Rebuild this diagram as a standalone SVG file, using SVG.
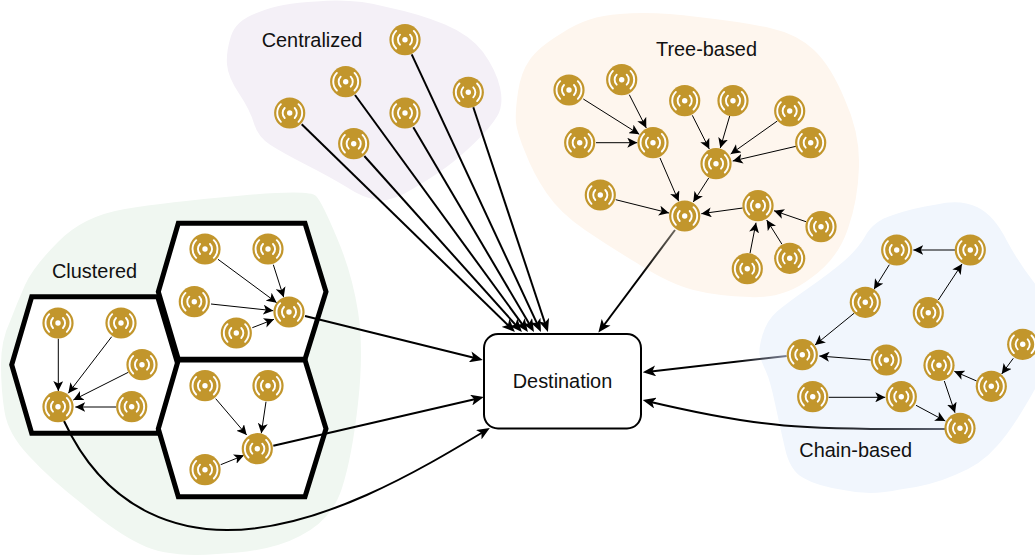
<svg xmlns="http://www.w3.org/2000/svg" xmlns:xlink="http://www.w3.org/1999/xlink" width="1035" height="559" viewBox="0 0 1035 559">
<style>
.lbl{font-family:"Liberation Sans",Arial,sans-serif;font-size:19.9px;fill:#111}
.hex{fill:#fff;stroke:#000;stroke-width:5;stroke-linejoin:miter}
.thin{fill:none;stroke:#000;stroke-width:1;marker-end:url(#a1)}
.thick{fill:none;stroke:#000;stroke-width:2;marker-end:url(#a2)}
.arc{fill:none;stroke:#fff;stroke-width:1.900;stroke-linecap:round}
</style>
<defs>
<marker id="a1" markerUnits="userSpaceOnUse" markerWidth="10" markerHeight="10" viewBox="0 0 10 10" refX="10" refY="5" orient="auto" preserveAspectRatio="none"><path d="M0 0L10 5L0 10L2.5 5Z" fill="#000"/></marker>
<marker id="a2" markerUnits="userSpaceOnUse" markerWidth="13" markerHeight="11" viewBox="0 0 10 10" refX="7" refY="5" orient="auto" preserveAspectRatio="none"><path d="M0 0L10 5L0 10L2.5 5Z" fill="#000"/></marker>
<linearGradient id="gt" gradientUnits="userSpaceOnUse" x1="675" y1="230" x2="640" y2="277"><stop offset="0" stop-color="#6a655c"/><stop offset="1" stop-color="#000"/></linearGradient>
<linearGradient id="gc1" gradientUnits="userSpaceOnUse" x1="787" y1="356" x2="735" y2="362"><stop offset="0" stop-color="#7c8296"/><stop offset="1" stop-color="#000"/></linearGradient>
<linearGradient id="gc2" gradientUnits="userSpaceOnUse" x1="945" y1="429" x2="780" y2="424"><stop offset="0" stop-color="#5c6270"/><stop offset="1" stop-color="#000"/></linearGradient>
<g id="icon">
<circle r="15.6" fill="#C2962C"/>
<circle r="2.7" fill="#fff"/>
<path class="arc" d="M-5 -5A7.100 7.100 0 0 0 -5 5M5 -5A7.100 7.100 0 0 1 5 5M-8.800 -8.800A12.400 12.400 0 0 0 -8.800 8.800M8.800 -8.800A12.400 12.400 0 0 1 8.800 8.800"/>
</g>
</defs>

<g id="regions">
<path id="region-centralized" fill="#F4F0F7" d="M231 36Q236 20 258 12.500Q280 3 316.500 1.500Q353 -2 386.500 7Q420 14 445 24.500Q470 35 483 52Q496 70 500 87.500Q504 105 497 116.500Q490 128 475 142.500Q460 157 446.500 167Q433 177 412.500 189Q392 202 377.500 200Q363 198 346.500 187Q330 177 306.500 165Q283 153 270.500 145Q258 137 254 123.500Q250 110 239 93.500Q228 77 227 64.500Q226 52 231 36Z"/>
<path id="region-tree" fill="#FEF6EE" d="M518 92Q521 72 529 61Q537 48 562 33Q587 16 620 14Q653 11 698 17Q743 22 770 28Q797 34 814 50Q831 66 845 100Q860 133 859 166.500Q858 200 848 228.500Q838 259 811 278Q784 299 750 297Q717 296 693.500 290Q670 284 640 265Q610 247 585 230Q560 213 546.500 193Q533 173 525.500 153Q517 133 516 122.500Q515 112 518 92Z"/>
<path id="region-chain" fill="#F1F6FD" d="M762.500 335Q767 320 777 311.500Q787 303 808.500 288Q830 273 843.500 261.500Q857 250 865 236.500Q873 221 893 215Q913 208 936.500 204.500Q960 199 977 207Q994 215 1007 241Q1021 267 1040 290L1040 380Q1014 428 997 446Q981 465 955 475Q930 486 900 489.500Q870 496 843.500 490Q817 486 803.500 478Q790 471 785 448.500Q780 427 775 403.500Q770 380 766 371.500Q762 363 760 356.500Q758 350 762.500 335Z"/>
<path id="region-clustered" fill="#F0F7F1" d="M10 321.500Q17 303 25 285Q33 267 58 242Q83 216 125 209Q167 202 237 196Q310 189 316 196Q322 202 337 238Q352 273 358 311.500Q364 350 358 403.500Q352 457 342 488Q332 520 300 536Q270 552 217 554Q167 558 140 544Q115 532 83.500 505Q50 479 29 456Q8 434 4.500 411.500Q1 390 1 365Q1 340 10 321.500Z"/>
</g>

<g id="clusters">
<polygon id="hex-left" class="hex" points="31.700,296.700 157.700,296.700 178,364.700 157.700,433.300 31.700,433.300 11.700,364.700"/>
<polygon id="hex-top" class="hex" points="178.300,223.300 305,223.300 326,291.700 305,359.300 178.300,359.300 158.300,291.700"/>
<polygon id="hex-bottom" class="hex" points="178.300,360 305,360 326,428.700 305,496.700 178.300,496.700 158.300,428.700"/>
</g>

<g id="destination">
<rect x="484" y="334" width="157" height="94.500" rx="14" ry="14" fill="#fff" stroke="#000" stroke-width="2"/>
<text class="lbl" x="562.500" y="388" text-anchor="middle">Destination</text>
</g>

<g id="connectors">
<path class="thin" d="M58.300 338.700L58.300 391"/>
<path class="thin" d="M111.700 336.700L68.300 393.300"/>
<path class="thin" d="M128.300 372.300L73.300 400"/>
<path class="thin" d="M116 407L75.300 407"/>
<path class="thin" d="M218 259.300L276.700 302.700"/>
<path class="thin" d="M273.300 264.700L283.700 297.300"/>
<path class="thin" d="M211 304L273.300 310.700"/>
<path class="thin" d="M252.300 327.700L274 319.300"/>
<path class="thin" d="M215.700 398.700L246.700 435"/>
<path class="thin" d="M266 401.700L261.300 433.300"/>
<path class="thin" d="M220.700 464.700L244 455.300"/>
<path class="thin" d="M583.300 99L639.300 134.300"/>
<path class="thin" d="M629.300 94.700L646.300 128"/>
<path class="thin" d="M596 142.700L637.300 142.700"/>
<path class="thin" d="M660 158L678.700 201.300"/>
<path class="thin" d="M692.300 115.300L709.300 149"/>
<path class="thin" d="M729.700 116L720.300 148"/>
<path class="thin" d="M777.300 121L730.700 154"/>
<path class="thin" d="M796 146.300L732.700 161"/>
<path class="thin" d="M708.700 178L693.300 202"/>
<path class="thin" d="M615.700 199.700L669 213"/>
<path class="thin" d="M742.700 208L701.300 213.700"/>
<path class="thin" d="M806 221.700L774 210.700"/>
<path class="thin" d="M782 244.300L766.700 220"/>
<path class="thin" d="M750 253.300L756 222.700"/>
<path class="thin" d="M955 250L913.300 250"/>
<path class="thin" d="M889.300 264.700L874 289.300"/>
<path class="thin" d="M938.300 300L962 264"/>
<path class="thin" d="M854 313.300L815 345"/>
<path class="thin" d="M870.700 360L819.300 356"/>
<path class="thin" d="M1013.300 358.300L1001.700 374"/>
<path class="thin" d="M976.700 381L954.300 371.300"/>
<path class="thin" d="M944.300 381L955 412.700"/>
<path class="thin" d="M828.700 397.300L885.300 397.300"/>
<path class="thin" d="M916 405.300L945.300 421"/>

<path class="thick" d="M301.700 124.300L512.100 329.200"/>
<path class="thick" d="M364.300 156L519.300 329"/>
<path class="thick" d="M355 95L525.600 328.800"/>
<path class="thick" d="M413.300 127.300L532 328.600"/>
<path class="thick" d="M411.700 54.300L539.300 328.400"/>
<path class="thick" d="M473.300 107.300L546.700 328.200"/>
<path class="thick" d="M305 316L479 359"/>
<path class="thick" d="M273.300 445.700L480 398"/>
<path class="thick" d="M64 421C110 520 190 530 227 530C320 530 420 470 486.500 430"/>
<path class="thick" style="stroke:url(#gt)" d="M675 230L600.700 329.500"/>
<path class="thick" style="stroke:url(#gc1)" d="M786.700 356L646.600 371.900"/>
<path class="thick" style="stroke:url(#gc2)" d="M945 429C800 430 760 428 646.500 401"/>
</g>

<g id="node-c1"><use href="#icon" x="58" y="323"/></g>
<g id="node-c2"><use href="#icon" x="121" y="323"/></g>
<g id="node-c3"><use href="#icon" x="142" y="364.700"/></g>
<g id="node-c4"><use href="#icon" x="131.700" y="406.700"/></g>
<g id="node-c5"><use href="#icon" x="58" y="406.700"/></g>
<g id="node-c6"><use href="#icon" x="205" y="249"/></g>
<g id="node-c7"><use href="#icon" x="268" y="249"/></g>
<g id="node-c8"><use href="#icon" x="194.300" y="301.700"/></g>
<g id="node-c9"><use href="#icon" x="236.300" y="333"/></g>
<g id="node-c10"><use href="#icon" x="289" y="312"/></g>
<g id="node-c11"><use href="#icon" x="205" y="385.700"/></g>
<g id="node-c12"><use href="#icon" x="268" y="385.700"/></g>
<g id="node-c13"><use href="#icon" x="205" y="469.700"/></g>
<g id="node-c14"><use href="#icon" x="257.300" y="448.700"/></g>

<g id="node-n1"><use href="#icon" x="405" y="39.700"/></g>
<g id="node-n2"><use href="#icon" x="468.300" y="92.300"/></g>
<g id="node-n3"><use href="#icon" x="345.700" y="81.700"/></g>
<g id="node-n4"><use href="#icon" x="405" y="113"/></g>
<g id="node-n5"><use href="#icon" x="289.700" y="113"/></g>
<g id="node-n6"><use href="#icon" x="353.700" y="143.700"/></g>

<g id="node-t1"><use href="#icon" x="569" y="90"/></g>
<g id="node-t2"><use href="#icon" x="621.700" y="79.700"/></g>
<g id="node-t3"><use href="#icon" x="684.700" y="100.700"/></g>
<g id="node-t4"><use href="#icon" x="733" y="100.700"/></g>
<g id="node-t5"><use href="#icon" x="789.700" y="111"/></g>
<g id="node-t6"><use href="#icon" x="810.700" y="142.700"/></g>
<g id="node-t7"><use href="#icon" x="579.700" y="142.700"/></g>
<g id="node-t8"><use href="#icon" x="653" y="142.700"/></g>
<g id="node-t9"><use href="#icon" x="716" y="163.700"/></g>
<g id="node-t10"><use href="#icon" x="600.300" y="195"/></g>
<g id="node-t11"><use href="#icon" x="684.700" y="216"/></g>
<g id="node-t12"><use href="#icon" x="758" y="205.700"/></g>
<g id="node-t13"><use href="#icon" x="821" y="226.700"/></g>
<g id="node-t14"><use href="#icon" x="789.700" y="258.300"/></g>
<g id="node-t15"><use href="#icon" x="747.300" y="268.700"/></g>

<g id="node-h1"><use href="#icon" x="896.700" y="250"/></g>
<g id="node-h2"><use href="#icon" x="970.300" y="250"/></g>
<g id="node-h3"><use href="#icon" x="865.300" y="302.300"/></g>
<g id="node-h4"><use href="#icon" x="928.300" y="312.700"/></g>
<g id="node-h5"><use href="#icon" x="802.300" y="354.700"/></g>
<g id="node-h6"><use href="#icon" x="886.300" y="360"/></g>
<g id="node-h7"><use href="#icon" x="1022.700" y="344.300"/></g>
<g id="node-h8"><use href="#icon" x="939" y="365.300"/></g>
<g id="node-h9"><use href="#icon" x="991.300" y="386.300"/></g>
<g id="node-h10"><use href="#icon" x="812.700" y="396.700"/></g>
<g id="node-h11"><use href="#icon" x="901.300" y="396.700"/></g>
<g id="node-h12"><use href="#icon" x="960" y="428.300"/></g>

<g id="labels">
<text class="lbl" x="52" y="278">Clustered</text>
<text class="lbl" x="261.700" y="46.700">Centralized</text>
<text class="lbl" x="656" y="56">Tree-based</text>
<text class="lbl" x="799.300" y="456.700">Chain-based</text>
</g>
</svg>
